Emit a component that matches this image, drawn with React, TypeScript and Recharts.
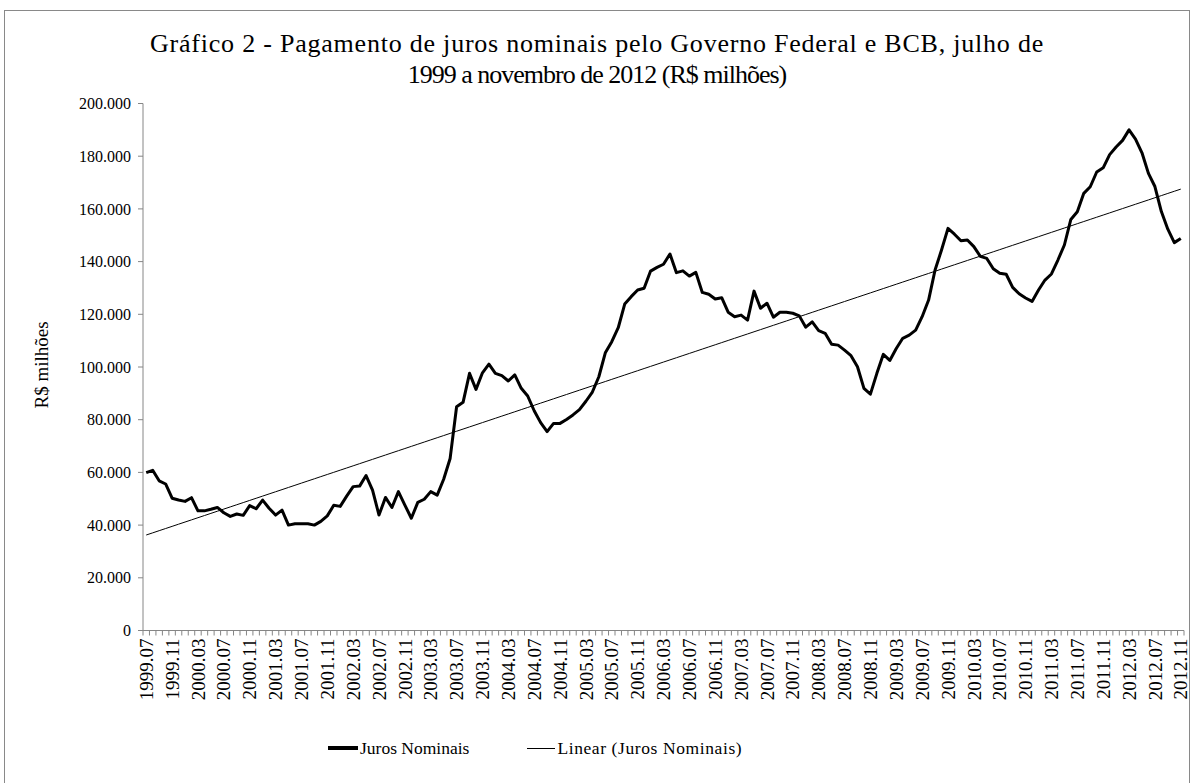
import { LineChart, Line, XAxis, YAxis } from "recharts";

const FONT = "'Liberation Serif', 'DejaVu Serif', serif";

// Juros nominais acumulados em 12 meses (R$ milhões), 1999.07 - 2012.11
const juros = [
  59900, 60800, 56800, 55600, 50200, 49500, 49000, 50400, 45400, 45400,
  46000, 46700, 44700, 43300, 44200, 43700, 47400, 46200, 49500, 46400,
  43800, 45700, 40000, 40500, 40500, 40500, 40000, 41400, 43500, 47500,
  47100, 51000, 54600, 54800, 58800, 53300, 43800, 50500, 46700, 52700,
  47600, 42600, 48600, 49800, 52700, 51400, 57400, 65300, 84900, 86600,
  97600, 91500, 97800, 101100, 97600, 96700, 94700, 97000, 91900, 89000,
  83400, 78900, 75500, 78600, 78600, 80100, 81800, 83800, 87000, 90500,
  96300, 105400, 109600, 114900, 123900, 126700, 129200, 129900, 136400, 137800,
  139000, 142900, 135800, 136500, 134500, 135900, 128300, 127600, 125800, 126300,
  120800, 119100, 119700, 117800, 128800, 122300, 124200, 118900, 120800, 120800,
  120400, 119400, 115100, 117100, 113800, 112800, 108600, 108300, 106400, 104300,
  100100, 91900, 89700, 97600, 104800, 102500, 107000, 110900, 112100, 114000,
  119100, 125400, 136800, 144400, 152600, 150400, 147900, 148200, 145700, 142000,
  141200, 137300, 135600, 135200, 130200, 127800, 126200, 124900, 129200, 133000,
  135300, 140600, 146300, 156000, 158900, 165900, 168400, 174000, 175600, 180600,
  183500, 186000, 190000, 186500, 181300, 173500, 168500, 159000, 152300, 147200,
  148800,
];

const startYear = 1999;
const startMonth = 7;
const yTicks = [0, 20000, 40000, 60000, 80000, 100000, 120000, 140000, 160000, 180000, 200000];

const months = juros.map((_, i) => {
  const m = startMonth - 1 + i;
  const year = startYear + Math.floor(m / 12);
  const month = (m % 12) + 1;
  return `${year}.${String(month).padStart(2, "0")}`;
});

// Excel-style linear trendline (least squares on the month index)
const n = juros.length;
const meanX = (n - 1) / 2;
const meanY = juros.reduce((a, b) => a + b, 0) / n;
let sxy = 0;
let sxx = 0;
juros.forEach((v, i) => {
  sxy += (i - meanX) * (v - meanY);
  sxx += (i - meanX) * (i - meanX);
});
const slope = sxy / sxx;
const intercept = meanY - slope * meanX;

const data = juros.map((v, i) => ({
  label: months[i],
  juros: v,
  trend: intercept + slope * i,
}));

const PLOT_LEFT = 143;
const PLOT_RIGHT = 1184;
const STEP = (PLOT_RIGHT - PLOT_LEFT) / n;

function fmtThousands(v: number) {
  if (v === 0) return "0";
  return String(v).replace(/\B(?=(\d{3})+(?!\d))/g, ".");
}

function MonthTick(props: any) {
  const { x, y, payload, index } = props;
  const left = x - STEP / 2;
  const showLabel = index % 4 === 0;
  return (
    <g>
      <line x1={left} y1={y} x2={left} y2={y + 5} stroke="#868686" />
      {index === n - 1 && (
        <line x1={x + STEP / 2} y1={y} x2={x + STEP / 2} y2={y + 5} stroke="#868686" />
      )}
      {showLabel && (
        <text
          x={x}
          y={y + 8}
          dy="0.35em"
          transform={`rotate(-90 ${x} ${y + 8})`}
          textAnchor="end"
          fontSize={19}
          style={{ fontFamily: FONT }}
          fill="#000"
        >
          {payload.value}
        </text>
      )}
    </g>
  );
}

export default function App() {
  return (
    <div style={{ position: "absolute", left: 0, top: 0, width: 1194, height: 783, background: "#fff", fontFamily: FONT }}>
      <div
        style={{
          position: "absolute",
          left: 4,
          top: 10,
          width: 1186,
          height: 780,
          boxSizing: "border-box",
          border: "1px solid #898989",
        }}
      />
      <div
        style={{
          position: "absolute",
          left: 0,
          top: 28,
          width: 1194,
          textAlign: "center",
          fontSize: 26,
          lineHeight: "31px",
          color: "#000",
          fontFamily: FONT,
        }}
      >
        <div style={{ letterSpacing: 0.78 }}>
          Gráfico 2 - Pagamento de juros nominais pelo Governo Federal e BCB, julho de
        </div>
        <div style={{ letterSpacing: -1 }}>1999 a novembro de 2012 (R$ milhões)</div>
      </div>
      <div
        style={{
          position: "absolute",
          left: 42,
          top: 365,
          transform: "translate(-50%, -50%) rotate(-90deg)",
          whiteSpace: "nowrap",
          fontSize: 19,
          color: "#000",
          fontFamily: FONT,
        }}
      >
        R$ milhões
      </div>
      <div style={{ position: "absolute", left: 0, top: 0 }}>
        <LineChart
          width={1194}
          height={783}
          data={data}
          margin={{ top: 103.5, right: 1194 - PLOT_RIGHT, bottom: 82.5, left: PLOT_LEFT - 60 }}
          style={{ fontFamily: FONT }}
        >
          <XAxis
            dataKey="label"
            interval={0}
            tick={<MonthTick />}
            tickLine={false}
            tickSize={0}
            tickMargin={0}
            height={70}
            padding={{ left: STEP / 2, right: STEP / 2 }}
            axisLine={{ stroke: "#868686" }}
          />
          <YAxis
            domain={[0, 200000]}
            ticks={yTicks}
            interval={0}
            width={60}
            tickFormatter={fmtThousands}
            tickSize={5}
            tickMargin={7}
            axisLine={{ stroke: "#868686" }}
            tickLine={{ stroke: "#868686" }}
            tick={{ fontSize: 16, fill: "#000", style: { fontFamily: FONT } }}
          />
          <Line
            type="linear"
            dataKey="juros"
            name="Juros Nominais"
            stroke="#000"
            strokeWidth={3}
            dot={false}
            strokeLinejoin="round"
            isAnimationActive={false}
          />
          <Line
            type="linear"
            dataKey="trend"
            name="Linear (Juros Nominais)"
            stroke="#000"
            strokeWidth={1}
            dot={false}
            isAnimationActive={false}
          />
        </LineChart>
      </div>
      <div
        style={{
          position: "absolute",
          left: 328,
          top: 736,
          display: "flex",
          alignItems: "center",
          fontSize: 17.5,
          lineHeight: "24px",
          color: "#000",
          whiteSpace: "nowrap",
          fontFamily: FONT,
        }}
      >
        <span style={{ display: "inline-block", width: 30, height: 4, background: "#000", marginRight: 2 }} />
        <span>Juros Nominais</span>
        <span style={{ display: "inline-block", width: 28, height: 1, background: "#000", marginLeft: 58, marginRight: 2 }} />
        <span style={{ letterSpacing: 0.6 }}>Linear (Juros Nominais)</span>
      </div>
    </div>
  );
}
